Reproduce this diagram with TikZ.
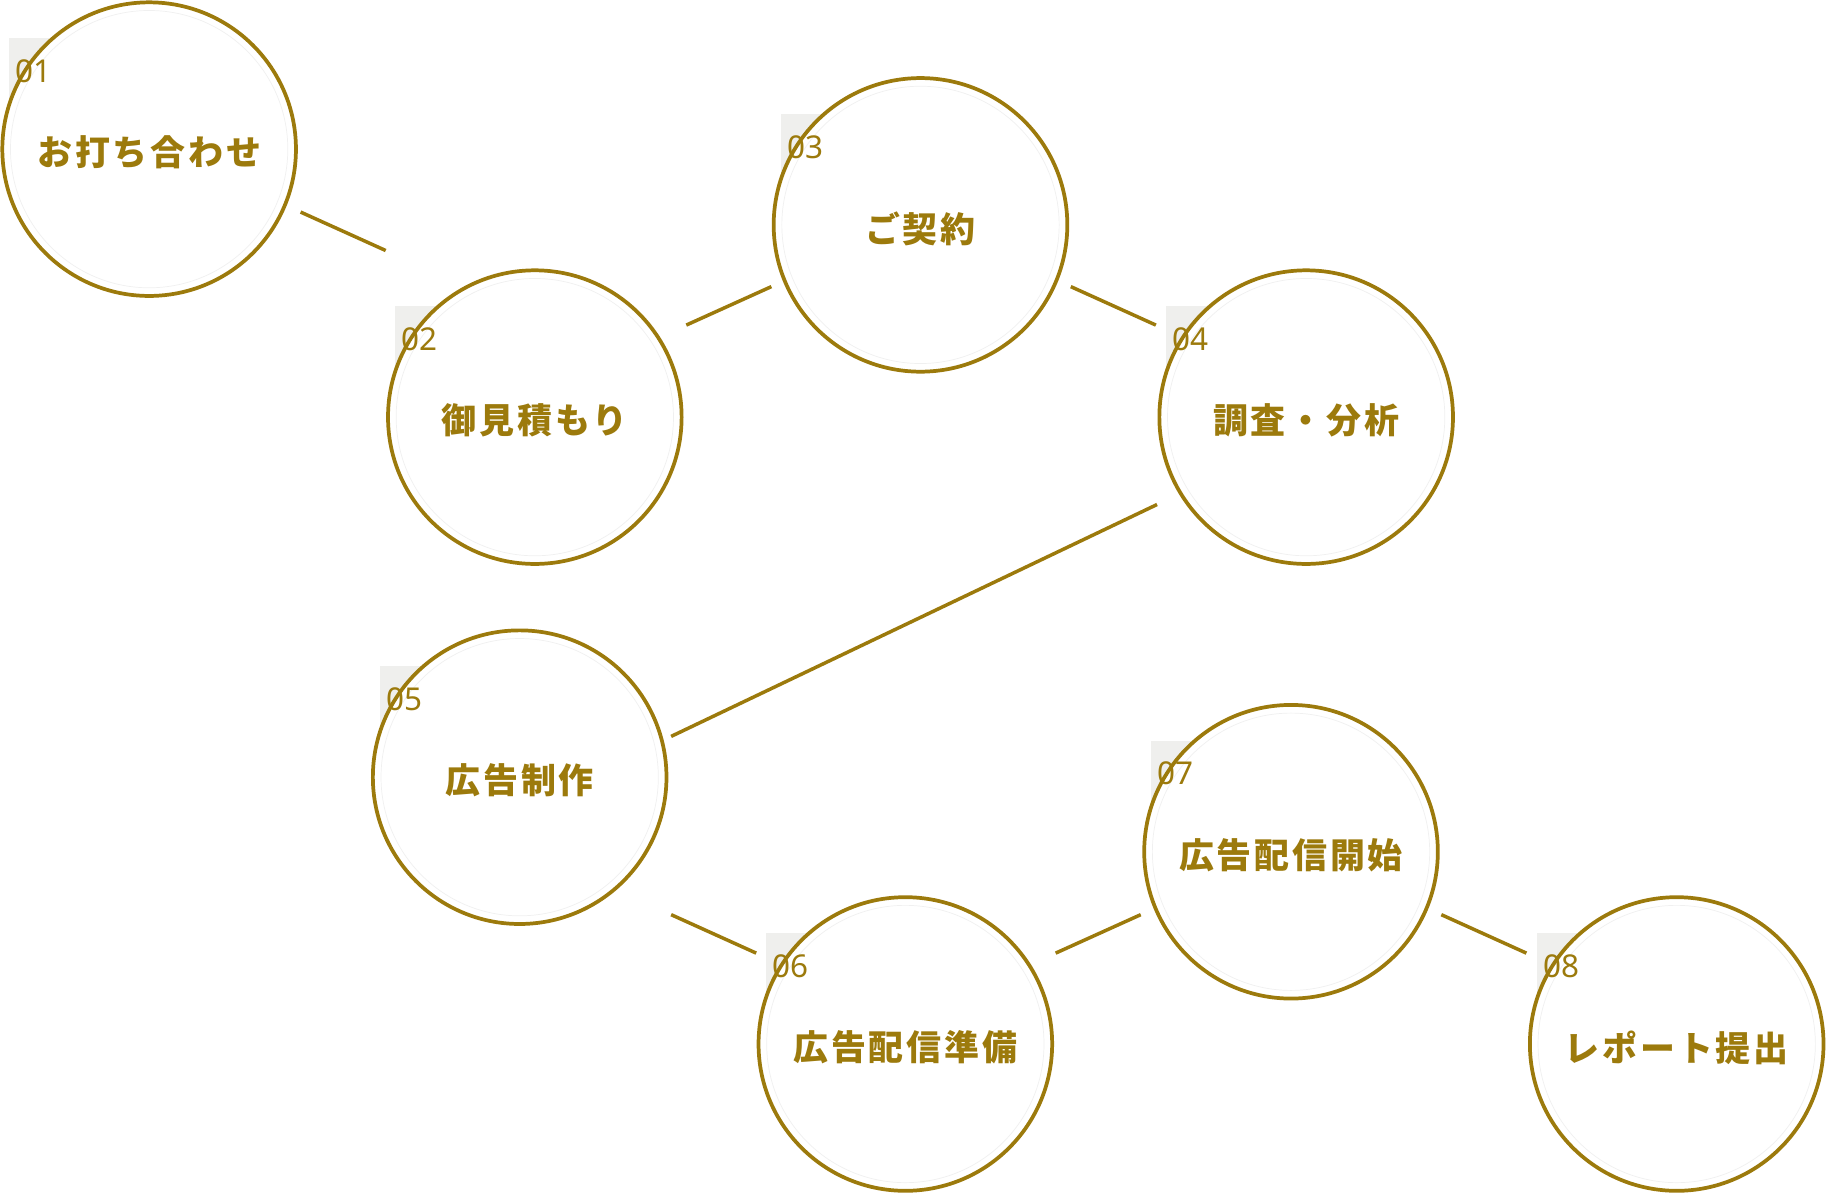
\documentclass[tikz,border=0pt]{standalone}
\usepackage{fontspec}
\setmainfont{Noto Sans CJK JP}
\newfontfamily\numfont{Noto Sans}
\definecolor{gold}{HTML}{9C7A0C}
\definecolor{tagbg}{HTML}{EFEFED}
\begin{document}
\begin{tikzpicture}[x=1pt,y=-1pt,
  step circle/.style={circle,draw=gold,line width=3.2pt,fill=white,minimum size=252pt,inner sep=0pt},
  step label/.style={font=\fontsize{30}{30}\selectfont\bfseries\addfontfeature{LetterSpace=8},text=gold},
  conn/.style={draw=gold,line width=3pt}]
\useasboundingbox (0,0) rectangle (1568,1032);
\def\stepnode#1#2#3#4{%
  \fill[tagbg] (#2-120,#3-95) rectangle (#2-77,#3-43);
  \node[step circle] (s#1) at (#2,#3) {};
  \draw[gray!12,line width=0.6pt] (#2,#3) circle (119);
  \node[step label] (t#1) at (#2,#3+3) {#4};
  \node[text=gold,font=\numfont\fontsize{27}{27}\selectfont,anchor=center] (n#1) at (#2-99,#3-67) {0#1};}
\stepnode{1}{128}{128}{お打ち合わせ}
\stepnode{2}{459}{358}{御見積もり}
\stepnode{3}{790}{193}{ご契約}
\stepnode{4}{1121}{358}{調査・分析}
\stepnode{5}{446}{667}{広告制作}
\stepnode{6}{777}{896}{広告配信準備}
\stepnode{7}{1108}{731}{広告配信開始}
\stepnode{8}{1439}{896}{レポート提出}
\coordinate (a1) at (258,182); \coordinate (b1) at (331,215);
\coordinate (a2) at (589,279); \coordinate (b2) at (662,246);
\coordinate (a3) at (919,246); \coordinate (b3) at (992,279);
\coordinate (a4) at (993,433); \coordinate (b4) at (576,632);
\coordinate (a5) at (576,785); \coordinate (b5) at (649,818);
\coordinate (a6) at (906,818); \coordinate (b6) at (979,785);
\coordinate (a7) at (1237,785); \coordinate (b7) at (1310,818);
\foreach \i in {1,...,7} {\draw[conn] (a\i) -- (b\i);}
\end{tikzpicture}
\end{document}
